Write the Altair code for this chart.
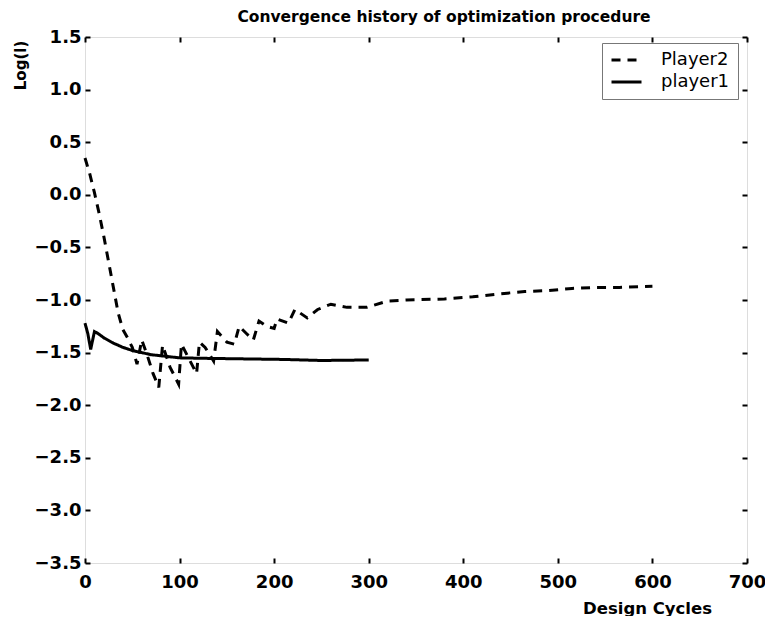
import altair as alt
import pandas as pd

# ---- data ----
series_names = ["Player2", "player1"]

p2_x = [0, 5, 10, 15, 20, 25, 30, 35, 40, 45, 50, 55, 60, 66, 72, 78, 82, 90, 99,
        102, 110, 118, 121, 127, 136, 140, 150, 158, 163, 172, 178, 184, 192, 200,
        203, 215, 222, 235, 246, 260, 277, 298, 320, 340, 380, 410, 440, 465, 490,
        515, 540, 565, 600]
p2_y = [0.35, 0.20, 0.02, -0.18, -0.40, -0.64, -0.88, -1.12, -1.28, -1.36, -1.45,
        -1.61, -1.38, -1.53, -1.70, -1.83, -1.43, -1.64, -1.80, -1.42, -1.56, -1.70,
        -1.40, -1.45, -1.58, -1.30, -1.40, -1.42, -1.25, -1.33, -1.38, -1.20, -1.25,
        -1.27, -1.18, -1.22, -1.09, -1.17, -1.09, -1.04, -1.07, -1.07, -1.01, -1.00,
        -0.99, -0.97, -0.94, -0.92, -0.91, -0.89, -0.88, -0.88, -0.87]

p1_x = [0, 3, 6, 10, 14, 20, 30, 40, 50, 60, 70, 80, 100, 130, 170, 210, 250, 300]
p1_y = [-1.22, -1.32, -1.47, -1.30, -1.32, -1.36, -1.41, -1.45, -1.48, -1.50,
        -1.52, -1.53, -1.55, -1.555, -1.56, -1.565, -1.575, -1.57]

x_ticks = [0, 100, 200, 300, 400, 500, 600, 700]
y_ticks = [1.5, 1.0, 0.5, 0.0, -0.5, -1.0, -1.5, -2.0, -2.5, -3.0, -3.5]

df = pd.concat([
    pd.DataFrame({"cycle": p2_x, "logI": p2_y, "series": series_names[0]}),
    pd.DataFrame({"cycle": p1_x, "logI": p1_y, "series": series_names[1]}),
])

FONT = "DejaVu Sans"
x_scale = alt.Scale(domain=[0, 700], nice=False, zero=False)
y_scale = alt.Scale(domain=[-3.5, 1.5], nice=False, zero=False)

common_axis = dict(offset=-5, tickSize=5, domain=False, grid=False,
                   tickColor="black", tickWidth=2,
                   labelFont=FONT, labelFontSize=18, labelFontWeight="bold",
                   labelColor="black")

lines = alt.Chart(df).mark_line(strokeWidth=3, color="black", strokeCap="butt").encode(
    x=alt.X("cycle:Q", scale=x_scale,
            axis=alt.Axis(orient="bottom", values=x_ticks, title="Design Cycles",
                          labelPadding=10, labelFlush=False,
                          titleFont=FONT, titleFontSize=16.5, titleFontWeight="bold",
                          titleColor="black", titleX=562, titleY=55,
                          titleAlign="center", titleBaseline="alphabetic",
                          **common_axis)),
    y=alt.Y("logI:Q", scale=y_scale,
            axis=alt.Axis(orient="left", values=y_ticks, format=".1f", title="Log(l)",
                          labelPadding=4, labelFlush=False,
                          titleFont=FONT, titleFontSize=15, titleFontWeight="bold",
                          titleColor="black", titleX=-70, titleY=28,
                          titleAngle=270, titleAlign="center", titleBaseline="middle",
                          **common_axis)),
    strokeDash=alt.StrokeDash(
        "series:N",
        scale=alt.Scale(domain=series_names, range=[[9, 7], [1, 0]]),
        legend=alt.Legend(title=None, orient="none", legendX=517, legendY=6,
                          symbolType="M-1,0H3", symbolSize=225, symbolStrokeWidth=3,
                          symbolStrokeColor="black",
                          labelFont=FONT, labelFontSize=18, labelColor="black",
                          labelOffset=33, rowPadding=4, padding=8,
                          fillColor="white", strokeColor="#777"),
    ),
)

mirror = alt.Chart(df).mark_line(opacity=0).encode(
    x=alt.X("cycle:Q", scale=x_scale,
            axis=alt.Axis(orient="top", values=x_ticks, title="", labels=False,
                          offset=-5, tickSize=5, domain=False, grid=False,
                          tickColor="black", tickWidth=2)),
    y=alt.Y("logI:Q", scale=y_scale,
            axis=alt.Axis(orient="right", values=y_ticks, title="", labels=False,
                          offset=-5, tickSize=5, domain=False, grid=False,
                          tickColor="black", tickWidth=2)),
    detail="series:N",
)

chart = alt.layer(lines, mirror).resolve_axis(
    x="independent", y="independent"
).properties(
    width=662, height=526,
    autosize=alt.AutoSizeParams(type="none"),
    padding={"left": 77, "top": 29, "right": 18, "bottom": 53},
    title=alt.TitleParams("Convergence history of optimization procedure",
                          font=FONT, fontSize=15.5, fontWeight="bold", color="black",
                          anchor="middle", offset=3, dx=28),
).configure_view(stroke="black", strokeWidth=3).configure(background="white")

chart.save("out.html", embed_options={"renderer": "svg", "actions": False})
